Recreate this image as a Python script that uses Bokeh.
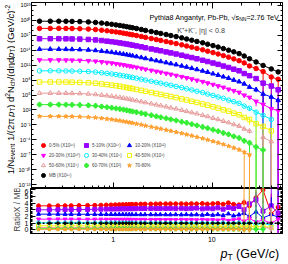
import math
import numpy as np
from bokeh.plotting import figure
from bokeh.layouts import column, row
from bokeh.models import (Range1d, LogAxis, LinearAxis, FixedTicker, SingleIntervalTicker,
                          CustomJSTickFormatter, Label, Legend, LegendItem)
from bokeh.embed import file_html
from bokeh.resources import INLINE

# ---------------- data ----------------
pt = [0.175, 0.225, 0.275, 0.325, 0.375, 0.45, 0.55, 0.65, 0.75, 0.85,
      0.95, 1.05, 1.15, 1.25, 1.35, 1.45, 1.55, 1.7, 1.9, 2.1,
      2.4, 2.7, 3.0, 3.4, 3.8, 4.3, 4.9, 5.5, 6.2, 7.0,
      8.0, 9.0, 10.2, 11.5, 13.0, 14.7, 16.6, 18.8, 21.2, 24.0,
      28.0, 33.0, 40.0, 47.0]

# minimum-bias spectrum (unscaled)
mb_spec = [69, 69, 69, 66, 63, 57.5, 49, 39, 28.8, 21.9,
           16.6, 12.6, 9.5, 7.2, 5.5, 4.27, 3.31, 2.34, 1.51, 0.98,
           0.58, 0.363, 0.24, 0.145, 0.091, 0.055, 0.031, 0.0182, 0.0105, 0.0059,
           0.0031, 0.00166, 0.00085, 0.00044, 0.000214, 0.000102, 4.8e-5, 2.1e-5, 6.9e-6, 1.95e-6,
           4.4e-7, 8.7e-8, 1.74e-8, 4.4e-9]

# ratio X / MB per centrality class
r05 = [3.60, 3.60, 3.61, 3.62, 3.63, 3.64, 3.66, 3.68, 3.70, 3.72,
       3.74, 3.76, 3.78, 3.79, 3.80, 3.81, 3.83, 3.84, 3.86, 3.87,
       3.88, 3.89, 3.90, 3.90, 3.91, 3.90, 3.92, 3.89, 3.93, 3.90,
       3.95, 3.87, 3.93, 3.97, 3.84, 4.05, 3.82, 3.74, 4.10, 3.60,
       4.80, 6.00, 2.40, 3.40]
r510 = [3.00, 3.01, 3.02, 3.03, 3.04, 3.05, 3.06, 3.08, 3.10, 3.11,
        3.12, 3.13, 3.14, 3.15, 3.16, 3.17, 3.17, 3.18, 3.19, 3.20,
        3.20, 3.21, 3.21, 3.20, 3.22, 3.19, 3.23, 3.18, 3.22, 3.26,
        3.15, 3.24, 3.17, 3.30, 3.10, 3.36, 3.20, 3.50, 3.00, 3.90,
        4.50, 2.80, 3.60, 2.50]
r1020 = [2.35, 2.35, 2.35, 2.34, 2.34, 2.34, 2.33, 2.33, 2.32, 2.32,
         2.32, 2.31, 2.31, 2.31, 2.30, 2.30, 2.30, 2.30, 2.29, 2.29,
         2.29, 2.28, 2.29, 2.28, 2.27, 2.29, 2.26, 2.30, 2.25, 2.28,
         2.22, 2.32, 2.20, 2.30, 2.15, 2.40, 2.10, 2.26, 2.50, 2.00,
         2.70, 1.80, 2.30, 1.90]
r2030 = [1.60, 1.60, 1.60, 1.59, 1.59, 1.59, 1.58, 1.58, 1.58, 1.57,
         1.57, 1.57, 1.56, 1.56, 1.56, 1.56, 1.55, 1.55, 1.55, 1.55,
         1.54, 1.54, 1.54, 1.53, 1.54, 1.52, 1.55, 1.51, 1.53, 1.50,
         1.55, 1.48, 1.52, 1.45, 1.58, 1.40, 1.50, 1.62, 1.30, 1.70,
         1.20, 1.45, 1.00, 1.60]
r3040 = [1.05, 1.05, 1.05, 1.05, 1.04, 1.04, 1.04, 1.04, 1.03, 1.03,
         1.03, 1.03, 1.02, 1.02, 1.02, 1.02, 1.01, 1.01, 1.01, 1.01,
         1.00, 1.00, 1.00, 0.99, 1.00, 0.98, 1.00, 0.97, 0.99, 0.96,
         1.00, 0.94, 0.98, 0.92, 1.02, 0.90, 0.95, 1.05, 0.85, 1.10,
         0.80, 0.95, 0.70, None]
r4050 = [0.60, 0.60, 0.60, 0.60, 0.60, 0.59, 0.59, 0.59, 0.59, 0.58,
         0.58, 0.58, 0.58, 0.57, 0.57, 0.57, 0.57, 0.56, 0.56, 0.56,
         0.56, 0.55, 0.55, 0.55, 0.54, 0.55, 0.53, 0.55, 0.52, 0.54,
         0.51, 0.55, 0.50, 0.53, 0.48, 0.56, 0.46, 0.52, 0.44, 0.60,
         0.40, 0.55, 0.35, None]
r5060 = [0.34, 0.34, 0.34, 0.34, 0.34, 0.34, 0.33, 0.33, 0.33, 0.33,
         0.33, 0.32, 0.32, 0.32, 0.32, 0.32, 0.31, 0.31, 0.31, 0.31,
         0.30, 0.30, 0.30, 0.30, 0.29, 0.30, 0.29, 0.29, 0.28, 0.29,
         0.27, 0.29, 0.26, 0.28, 0.25, 0.28, 0.24, 0.27, 0.22, 0.30,
         None, 0.35, 0.25, None]
r6070 = [0.17, 0.17, 0.17, 0.17, 0.17, 0.17, 0.17, 0.17, 0.16, 0.16,
         0.16, 0.16, 0.16, 0.16, 0.16, 0.15, 0.15, 0.15, 0.15, 0.15,
         0.15, 0.14, 0.14, 0.14, 0.14, 0.14, 0.13, 0.14, 0.13, 0.13,
         0.12, 0.13, 0.12, 0.12, 0.11, 0.12, 0.10, 0.11, 0.09, 0.12,
         0.08, 0.10, None, None]
r7080 = [0.075, 0.075, 0.075, 0.075, 0.074, 0.074, 0.074, 0.073, 0.073, 0.072,
         0.072, 0.071, 0.071, 0.070, 0.070, 0.069, 0.069, 0.068, 0.068, 0.067,
         0.067, 0.066, 0.066, 0.065, 0.064, 0.064, 0.063, 0.062, 0.062, 0.060,
         0.060, 0.058, 0.057, 0.056, 0.054, 0.052, 0.050, 0.048, 0.045, 0.050,
         None, None, None, None]

# errors for the high-pT tail (last 12 pT points): relative (spectra), absolute (ratios)
N_TAIL = 12
te_mb = [0.02, 0.03, 0.04, 0.05, 0.07, 0.09, 0.12, 0.16, 0.22, 0.30, 0.45, 0.60]
te05 = [0.03, 0.04, 0.05, 0.07, 0.09, 0.12, 0.18, 0.30, 0.50, 1.20, 1.20, 1.20]
te510 = [0.03, 0.04, 0.06, 0.08, 0.10, 0.14, 0.20, 0.35, 0.60, 1.20, 1.20, 1.20]
te1020 = [0.04, 0.05, 0.07, 0.09, 0.12, 0.16, 0.25, 0.40, 0.70, 1.20, 1.20, 1.20]
te2030 = [0.05, 0.06, 0.08, 0.11, 0.15, 0.20, 0.30, 0.50, 0.90, 1.20, 1.20, 1.20]
te3040 = [0.06, 0.08, 0.10, 0.14, 0.20, 0.30, 0.45, 0.70, 1.20, 1.20, 1.20, 0]
te4050 = [0.07, 0.09, 0.12, 0.17, 0.25, 0.35, 0.55, 0.90, 1.20, 1.20, 1.20, 0]
te5060 = [0.08, 0.11, 0.15, 0.20, 0.27, 0.37, 0.50, 0.70, 0, 1.20, 1.20, 0]
te6070 = [0.10, 0.14, 0.19, 0.26, 0.36, 0.50, 0.70, 1.20, 1.20, 1.20, 0, 0]
te7080 = [0.12, 0.16, 0.22, 0.30, 0.42, 0.60, 1.20, 1.20, 0, 0, 0, 0]

re05 = [0.08, 0.10, 0.13, 0.17, 0.22, 0.30, 0.45, 0.70, 1.20, 2.00, 3.00, 5.00]
re510 = [0.07, 0.09, 0.12, 0.16, 0.20, 0.28, 0.42, 0.65, 1.10, 1.80, 2.80, 4.50]
re1020 = [0.06, 0.08, 0.10, 0.14, 0.18, 0.25, 0.38, 0.60, 1.00, 1.70, 2.60, 4.00]
re2030 = [0.05, 0.07, 0.09, 0.12, 0.16, 0.22, 0.33, 0.50, 0.90, 1.50, 2.40, 3.50]
re3040 = [0.04, 0.06, 0.08, 0.10, 0.14, 0.20, 0.30, 0.45, 0.80, 1.40, 2.50, 0]
re4050 = [0.03, 0.04, 0.06, 0.08, 0.11, 0.16, 0.25, 0.40, 0.70, 1.30, 3.00, 0]
re5060 = [0.03, 0.04, 0.05, 0.07, 0.10, 0.14, 0.22, 0.60, 0, 6.50, 3.00, 0]
re6070 = [0.02, 0.03, 0.04, 0.06, 0.08, 0.12, 0.20, 6.50, 6.50, 6.50, 0, 0]
re7080 = [0.02, 0.03, 0.04, 0.05, 0.07, 0.10, 6.50, 6.50, 0, 0, 0, 0]

labels = ["0-5% (X10\u00b9\u2076)", "5-10% (X10\u00b9\u2074)", "10-20% (X10\u00b9\u00b2)",
          "20-30% (X10\u00b9\u2070)", "30-40% (X10\u2078)", "40-50% (X10\u2076)",
          "50-60% (X10\u2074)", "60-70% (X10\u00b2)", "70-80%"]
scale_exp = [16, 14, 12, 10, 8, 6, 4, 2, 0]
mb_label = "MB (X10\u00b9\u2078)"
mb_scale_exp = 18
ratios = [r05, r510, r1020, r2030, r3040, r4050, r5060, r6070, r7080]
top_rel_err = [te05, te510, te1020, te2030, te3040, te4050, te5060, te6070, te7080]
ratio_err = [re05, re510, re1020, re2030, re3040, re4050, re5060, re6070, re7080]
colors = ["#ff0000", "#9900ff", "#0000ff", "#ff00ff", "#00f0ff",
          "#f2f200", "#e89a9a", "#33ee33", "#ffa030"]
markers = ["circle", "square", "triangle", "inverted_triangle", "circle",
           "square", "triangle", "plus", "star"]
filled = [True, True, True, True, False, False, False, True, True]

y_major_exp = [-13, -10, -7, -4, -1, 2, 5, 8, 11, 14, 17, 20, 23]
y_minor_exp = list(range(-13, 24))
x_major = [1, 10]
x_minor = [0.2, 0.3, 0.4, 0.5, 0.6, 0.7, 0.8, 0.9, 2, 3, 4, 5, 6, 7, 8, 9, 20, 30, 40, 50]

# ---------------- geometry (page px) ----------------
FONT = "Liberation Sans"
W = 284
FL, FR = 29, 282
TT, TB = 2, 188
BT, BB = 188, 233
XB = 244        # bottom of the ratio figure / top of the x-title strip
HB = 262        # bottom of the whole layout
LW1, LW2 = 15, 21   # widths of the strips holding the rotated titles
XLO, XHI = 0.145, 52.0
YLO_E, YHI_E = -13.8, 23.6
RLO, RHI = -0.55, 6.2

CW = {' ': .278, '(': .333, ')': .333, '/': .278, '-': .333, '=': .584, '+': .584, ',': .278,
      '.': .278, '%': .889, '|': .26, '<': .584, 'A': .667, 'B': .667, 'G': .778, 'K': .667,
      'M': .833, 'N': .722, 'P': .667, 'R': .722, 'T': .611, 'V': .667, 'X': .667, 'c': .5,
      'i': .222, 'r': .333, 's': .5, 't': .278, 'v': .5, 'y': .5, '\u03c0': .57, '\u03b7': .56,
      '\u221a': .55}


def tw(s, size):
    return sum(CW.get(c, 0.556) for c in s) * size


def ident(v):
    return v


def rich(fig, segs, px, py, cx=ident, cy=ident, vertical=False):
    """Place text segments one after another (page px); spaces become offsets."""
    pos = 0.0
    for text, size, style, shift in segs:
        core = text.strip(" ")
        lead = tw(text[:len(text) - len(text.lstrip(" "))], size)
        if core:
            if vertical:
                X, Y, ang = px - shift, py - (pos + lead), math.pi / 2
            else:
                X, Y, ang = px + pos + lead, py - shift, 0.0
            fig.add_layout(Label(x=cx(X), y=cy(Y), text=core, angle=ang, text_font=FONT,
                                 text_font_size=f"{size}px", text_font_style=style,
                                 text_align="left", text_baseline="alphabetic", text_color="black"))
        pos += tw(text, size)
    return pos


def strip(width, y0, y1):
    """An axis-less figure whose frame is the whole canvas; x = page px, y = y1 - page px."""
    f = figure(width=width, height=y1 - y0, x_range=Range1d(0, width), y_range=Range1d(0, y1 - y0),
               x_axis_location=None, y_axis_location=None, min_border=0,
               output_backend="svg", toolbar_location=None)
    f.grid.visible = False
    f.outline_line_color = None
    return f


def fx(px):
    return 10 ** (math.log10(XLO) + (px - FL) / (FR - FL) * (math.log10(XHI) - math.log10(XLO)))


def fy_top(py):
    return 10 ** (YHI_E - (py - TT) / (TB - TT) * (YHI_E - YLO_E))


def arr(lst):
    return np.array([np.nan if v is None else v for v in lst], dtype=float)


def tail(lst, n):
    return np.concatenate([np.zeros(n - N_TAIL), np.array(lst, dtype=float)])


def style_axis(ax, tin=5, minin=3):
    ax.major_tick_in = tin
    ax.major_tick_out = 0
    ax.minor_tick_in = minin
    ax.minor_tick_out = 0
    ax.axis_line_color = "black"
    ax.major_tick_line_color = "black"
    ax.minor_tick_line_color = "black"
    ax.major_label_text_font = FONT
    ax.major_label_text_color = "black"


def blank_axis(ax):
    ax.formatter = CustomJSTickFormatter(code="return ''")
    ax.major_label_text_font_size = "0px"
    ax.major_label_standoff = 0


SUP = """
const e = Math.round(Math.log10(tick));
const sup = {'-':'\u207b','0':'\u2070','1':'\u00b9','2':'\u00b2','3':'\u00b3','4':'\u2074',
             '5':'\u2075','6':'\u2076','7':'\u2077','8':'\u2078','9':'\u2079'};
return '10' + String(e).split('').map(c => sup[c]).join('');
"""

n = len(pt)
x = np.array(pt, dtype=float)
mb = np.array(mb_spec, dtype=float)

# ---------------- top panel ----------------
top = figure(width=W - LW1, height=TB, x_axis_type="log", y_axis_type="log",
             x_range=Range1d(XLO, XHI), y_range=Range1d(10 ** YLO_E, 10 ** YHI_E),
             output_backend="svg", toolbar_location=None,
             min_border_left=FL - LW1, min_border_right=W - FR, min_border_top=TT, min_border_bottom=0)
top.grid.visible = False
top.outline_line_color = "black"

yt = FixedTicker(ticks=[10.0 ** e for e in y_major_exp], minor_ticks=[10.0 ** e for e in y_minor_exp])
xt = FixedTicker(ticks=x_major, minor_ticks=x_minor)
top.yaxis.ticker = yt
top.yaxis.formatter = CustomJSTickFormatter(code=SUP)
top.yaxis.major_label_text_font_size = "5.6px"
top.yaxis.major_label_standoff = 1
style_axis(top.yaxis[0], 5, 2)
top.xaxis.ticker = xt
blank_axis(top.xaxis[0])
style_axis(top.xaxis[0], 6, 3)
ax_r = LogAxis(ticker=yt)
blank_axis(ax_r)
style_axis(ax_r, 5, 2)
top.add_layout(ax_r, "right")
ax_t = LogAxis(ticker=xt)
blank_axis(ax_t)
style_axis(ax_t, 6, 3)
top.add_layout(ax_t, "above")

# ---------------- bottom (ratio) panel ----------------
bot = figure(width=W - LW2, height=XB - BT, x_axis_type="log",
             x_range=top.x_range, y_range=Range1d(RLO, RHI),
             output_backend="svg", toolbar_location=None,
             min_border_left=FL - LW2, min_border_right=W - FR, min_border_top=0,
             min_border_bottom=XB - BB)
bot.grid.visible = False
bot.outline_line_color = "black"
bot.xaxis.ticker = xt
bot.xaxis.formatter = CustomJSTickFormatter(code="return tick.toString()")
bot.xaxis.major_label_text_font_size = "7px"
bot.xaxis.major_label_standoff = 3
style_axis(bot.xaxis[0], 4, 2)
bot.yaxis.ticker = SingleIntervalTicker(interval=1, num_minor_ticks=5)
bot.yaxis.major_label_text_font_size = "7px"
bot.yaxis.major_label_standoff = 2
style_axis(bot.yaxis[0], 5, 2)
ax_r2 = LinearAxis(ticker=SingleIntervalTicker(interval=1, num_minor_ticks=5))
blank_axis(ax_r2)
style_axis(ax_r2, 5, 2)
bot.add_layout(ax_r2, "right")

# ---------------- draw series ----------------
legend_items = []
for i in range(len(ratios)):
    r = arr(ratios[i])
    c = colors[i]
    yv = mb * r * 10.0 ** scale_exp[i]
    rel = tail(top_rel_err[i], n)
    lo = np.where(yv * (1 - rel) > 0, yv * (1 - rel), 1e-40)
    hi = yv * (1 + rel)
    top.segment(x, lo, x, hi, line_color=c, line_width=1)
    top.line(x, yv, line_color=c, line_width=1)
    sr = top.scatter(x, yv, marker=markers[i], size=4.5, line_color=c,
                     fill_color=c if filled[i] else "white", fill_alpha=1.0 if filled[i] else 0.0,
                     line_width=1)
    legend_items.append(LegendItem(label=labels[i], renderers=[sr]))

    re = tail(ratio_err[i], n)
    bot.segment(x, r - re, x, r + re, line_color=c, line_width=1)
    bot.line(x, r, line_color=c, line_width=1)
    bot.scatter(x, r, marker=markers[i], size=4, line_color=c,
                fill_color=c if filled[i] else "white", fill_alpha=1.0 if filled[i] else 0.0,
                line_width=1)

# minimum bias
ymb = mb * 10.0 ** mb_scale_exp
rel = tail(te_mb, n)
top.segment(x, ymb * (1 - rel), x, ymb * (1 + rel), line_color="black", line_width=1)
top.line(x, ymb, line_color="black", line_width=1)
smb = top.scatter(x, ymb, marker="circle", size=4.5, color="black")
legend_items.append(LegendItem(label=mb_label, renderers=[smb]))
mb_ratio = mb / mb
bot.line(x, mb_ratio, line_color="black", line_width=1.5, line_dash="2 2")
bot.scatter(x, mb_ratio, marker="circle", size=2.5, color="black")

legend = Legend(items=legend_items, location=(7, 8), ncols=3, orientation="horizontal",
                border_line_alpha=0, background_fill_alpha=0, padding=0, margin=0, spacing=0,
                glyph_width=10, glyph_height=10, label_height=10, label_width=32,
                label_standoff=1, label_text_font=FONT, label_text_font_size="4.5px",
                label_text_baseline="middle")
top.add_layout(legend)

# ---------------- texts ----------------
rich(top, [("Pythia8 Angantyr, Pb-Pb, \u221as", 7.2, "normal", 0), ("NN", 5.0, "normal", -1.6),
           ("=2.76 TeV", 7.2, "normal", 0)], 148, 17, fx, fy_top)
top.add_layout(Label(x=fx(200), y=fy_top(30), text="K\u207a+K\u207b, |\u03b7| < 0.8", text_font=FONT,
                     text_font_size="7.2px", text_align="center", text_baseline="alphabetic"))

# strip with the rotated spectrum title (left of the top panel)
lf1 = strip(LW1, 0, TB)
ytitle = [("1/N", 9.5, "normal", 0), ("event", 6.6, "normal", -2.0), (" 1/(2\u03c0 ", 9.5, "normal", 0),
          ("p", 9.5, "italic", 0), ("T", 6.6, "normal", -2.0), (") d", 9.5, "normal", 0),
          ("2", 6.6, "normal", 3.6), ("N", 9.5, "normal", 0), ("ch", 6.6, "normal", -2.0),
          ("/(d\u03b7d", 9.5, "normal", 0), ("p", 9.5, "italic", 0), ("T", 6.6, "normal", -2.0),
          (") (GeV/", 9.5, "normal", 0), ("c", 9.5, "italic", 0), (")", 9.5, "normal", 0),
          ("-2", 6.6, "normal", 3.6)]
L = sum(tw(s, sz) for s, sz, _, _ in ytitle)
rich(lf1, ytitle, 10.3, 88 + L / 2, cy=lambda py: TB - py, vertical=True)

# strip with the rotated ratio title (left of the ratio panel)
lf2 = strip(LW2, BT, XB)
lf2.add_layout(Label(x=16.0, y=XB - 214, text="RatioX / MB", angle=math.pi / 2, text_font=FONT,
                     text_font_size="8.4px", text_align="center", text_baseline="alphabetic"))

# strip with the x title
xf = strip(W, XB, HB)
rich(xf, [("p", 12.5, "italic", 0), ("T", 8.5, "normal", -3.2), (" (GeV/", 12.5, "normal", 0),
          ("c", 12.5, "italic", 0), (")", 12.5, "normal", 0)], 220, 253.5, cy=lambda py: HB - py)

p = column(row(lf1, top, spacing=0), row(lf2, bot, spacing=0), xf, spacing=0)
open("out.html", "w", encoding="utf-8").write(file_html(p, INLINE))
